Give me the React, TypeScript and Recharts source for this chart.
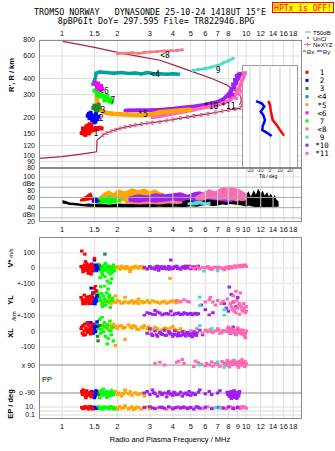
import React from 'react';
import { ComposedChart, Scatter, Line, Area, XAxis, YAxis, ReferenceLine } from 'recharts';

// axes
const FREQ_TICKS = [1, 1.5, 2, 3, 4, 5, 6, 7, 8, 9, 10, 12, 14, 16, 18];
const FREQ_DOMAIN = [0.75, 20.1];
const HEIGHT_TICKS = [80, 90, 100, 120, 150, 200, 300, 400, 600, 800];
const DB_TICKS = [20, 40, 60, 80, 100];
const TILT_TICKS = [-20, -10, 0, 10, 20];

// series names / colours (legend order)
const SERIES = ['1', '2', '3', '<4', '*5', '<6', '7', '<8', '9', '*10', '*11'];
const COLORS = ['#ff0000', '#0000ff', '#228b22', '#00a0a0', '#ffa500', '#ff00ff', '#00ff00', '#f08080', '#40e0d0', '#a020f0', '#ff69b4'];
const CURVE = '#a8204a';

// virtual height traces, [f MHz, h km, ...]
const VH_1 = [1.28,150, 1.3,156, 1.32,148, 1.33,161, 1.35,166, 1.36,152, 1.37,171, 1.38,158, 1.4,163, 1.4,149, 1.42,168, 1.43,155, 1.45,160, 1.34,145, 1.3,163, 1.44,173, 1.47,162, 1.5,159, 1.53,164, 1.56,161, 1.6,165, 1.64,163, 1.41,176];
const VH_2 = [1.38,205, 1.4,212, 1.42,200, 1.44,208, 1.45,195, 1.47,205, 1.48,188, 1.5,198, 1.52,185, 1.53,210, 1.55,193, 1.5,182, 1.43,216, 1.58,201, 1.46,190, 1.41,196];
const VH_3 = [1.48,236, 1.5,246, 1.52,231, 1.54,241, 1.56,226, 1.58,250, 1.53,221, 1.6,236];
const VH_4 = [1.47,360, 1.5,385, 1.52,410, 1.53,440, 1.6,450, 1.75,445, 1.9,440, 2.1,446, 2.3,438, 2.5,442, 2.7,435, 2.9,445, 3.1,438, 3.4,435, 3.7,432, 4.0,436, 4.3,432];
const VH_5 = [1.55,295, 1.55,270, 1.57,250, 1.6,232, 1.65,222, 1.75,215, 1.9,212, 2.1,210, 2.4,208, 2.7,207, 3.0,209, 3.4,218, 3.9,222, 4.5,226, 5.0,228];
const VH_6 = [1.51,372, 1.53,360, 1.55,352, 1.57,366, 1.6,345, 1.62,338, 1.65,332, 1.55,340, 1.58,330, 1.63,350];
const VH_7 = [1.5,322, 1.54,315, 1.58,306, 1.62,300, 1.66,292, 1.7,286, 1.74,280, 1.78,272, 1.82,266, 1.86,260, 1.6,290, 1.7,270, 1.55,298, 1.76,292, 1.84,276];
const VH_8 = [2.0,625, 2.2,630, 2.4,635, 2.6,628, 2.8,640, 3.0,645, 3.3,650, 3.6,655, 3.9,660, 4.2,662, 4.5,670];
const VH_9 = [5.15,462, 5.5,470, 6.0,480, 6.5,492, 7.0,505, 7.5,530, 8.0,550, 8.5,575];
const VH_10 = [2.2,225, 2.6,226, 3.0,226, 3.5,228, 4.0,232, 4.6,238, 5.2,242, 5.8,248, 6.4,255, 7.0,262, 7.5,275, 7.9,295, 8.3,320, 8.6,350, 8.9,385, 9.2,420, 9.3,440];
const VH_10B = [8.3,330, 8.5,360, 8.7,390, 8.9,420, 8.4,300, 8.6,340, 8.8,370, 9.0,400, 8.2,310, 9.1,430, 8.1,290];
const VH_11 = [3.1,198, 3.5,205, 4.0,212, 4.6,220, 5.2,228, 5.8,236, 6.4,242, 7.0,248, 7.6,258, 8.2,272, 8.6,290, 8.9,310, 9.2,340, 9.4,370, 9.6,400, 9.8,430, 9.9,445];
const VH_11B = [9.0,330, 9.3,360, 9.5,390, 9.7,420, 9.8,440, 9.2,300, 9.4,320, 8.8,280];

// trace labels [f, h]
const LABEL_POS = [1.53,150, 1.63,196, 1.67,226, 3.2,432, 2.75,211, 1.69,318, 1.89,271, 3.63,606, 7.05,465, 6.45,243, 8.0,240];

// model curves
const THETA_X = [1.01,780, 1.5,700, 2.0,640, 2.6,595, 3.4,556, 4.2,500, 5.15,451, 6.5,400, 7.9,355, 8.9,315, 9.35,290, 9.4,265, 9.2,250];
const NE_XYZ = [0.75,95, 1.0,98, 1.3,103, 1.54,107, 1.55,132, 1.67,145, 1.75,150, 1.85,155, 1.95,159, 2.07,163, 2.2,167, 2.35,170, 2.5,173, 2.7,176, 2.9,179, 3.1,181, 3.4,184, 3.7,188, 4.0,191, 4.4,196, 4.8,200, 5.2,204, 5.7,208, 6.2,212, 6.8,217, 7.4,222, 8.0,227, 8.7,231, 9.3,235, 9.5,252];

// tilt inset [deg, h]
const TILT_X = [-1.7,266, 0,248, 0.7,226, 1.7,207, 2.7,189, 6.7,173, 10,158, 14,143];
const TILT_Y = [-14,266, -8.3,255, -5.7,241, -9.3,220, -6.7,207, -5,189, -7.3,170, -7.7,158, -3.3,151, 1.7,142];

// amplitude [f, lo dB, hi dB]
const AMP_NOISE = [1.0,48,55, 1.05,47,53, 1.1,45,50, 1.2,44,49, 1.3,43,47, 1.4,42,48, 1.5,42,47, 1.6,41,48, 1.8,40,46, 2.0,41,48, 2.3,40,47, 2.6,41,50, 3.0,41,52, 3.4,42,54, 3.8,41,52, 4.2,42,56, 4.6,41,60, 5.0,43,58, 5.4,42,62, 5.8,44,66, 6.2,45,70, 6.6,43,64, 7.0,44,72, 7.4,46,68, 7.8,45,75, 8.2,47,66, 8.6,46,72, 9.0,45,70, 9.5,44,64, 10,42,66, 10.3,44,72, 10.6,43,62, 11,42,74, 11.3,41,65, 11.6,42,77, 12,40,68, 12.3,42,73, 12.6,41,64, 13,42,70, 13.3,41,62, 13.6,42,67, 14,41,60, 14.3,42,65, 14.6,42,56, 15,42,52];
const AMP_1 = [1.25,52,56, 1.3,52,60, 1.35,53,64, 1.4,54,68, 1.44,55,70, 1.47,55,62];
const AMP_2 = [1.45,50,58, 1.5,49,62, 1.55,49,60, 1.58,50,55];
const AMP_3 = [1.5,50,55, 1.56,51,57, 1.62,50,54];
const AMP_5 = [1.6,55,62, 1.7,54,70, 1.8,56,74, 1.9,55,68, 2.0,54,76, 2.2,52,72, 2.4,54,78, 2.6,53,74, 2.8,52,78, 3.0,55,72, 3.2,54,76, 3.4,56,70, 3.6,55,68];
const AMP_6 = [2.3,55,60, 2.5,54,62, 2.7,56,60];
const AMP_7 = [1.52,48,56, 1.6,47,62, 1.7,48,60, 1.8,47,64, 1.9,48,60, 2.0,50,58, 2.1,50,56];
const AMP_8 = [2.2,48,58, 2.6,46,56, 3.0,47,60, 3.4,46,58, 3.8,48,62, 4.2,47,60, 4.5,48,55];
const AMP_9 = [4.8,45,50, 5.2,44,52, 5.6,46,54, 6.0,44,50, 6.4,45,52];
const AMP_10 = [2.3,52,62, 2.6,50,66, 2.9,52,64, 3.2,50,68, 3.6,52,66, 4.0,54,68, 4.4,52,70, 4.8,55,65, 5.2,53,70, 5.6,50,72, 6.0,56,68, 6.5,55,70, 7.0,54,66, 7.5,52,60, 8.0,50,62, 8.5,52,58];
const AMP_11 = [5.3,55,62, 5.8,54,70, 6.3,58,76, 6.8,56,72, 7.2,55,78, 7.6,56,80, 8.0,54,79, 8.4,55,80, 8.8,52,78, 9.2,54,76, 9.6,52,72, 10,55,68];

// V* m/s  [f, v]
const VEL_1 = [1.27,10, 1.3,-5, 1.32,20, 1.33,-15, 1.35,5, 1.36,30, 1.38,-20, 1.38,12, 1.4,0, 1.41,-30, 1.42,18, 1.43,-8, 1.45,25, 1.46,-12, 1.47,5, 1.3,-25, 1.34,42, 1.28,111, 1.33,91, 1.5,63, 1.39,-35, 1.44,-40, 1.29,0, 1.31,-12, 1.34,8, 1.37,-5, 1.39,20, 1.41,10, 1.44,-2, 1.46,15];
const VEL_2 = [1.44,5, 1.46,-10, 1.48,15, 1.5,0, 1.52,-5, 1.53,20, 1.55,8, 1.5,52, 1.47,-20, 1.54,-15, 1.45,25, 1.49,-8, 1.51,10, 1.56,-2];
const VEL_3 = [1.71,91, 1.55,10, 1.58,-5, 1.6,15];
const VEL_7 = [1.52,10, 1.55,-20, 1.58,25, 1.6,-10, 1.62,5, 1.65,-30, 1.68,15, 1.7,-15, 1.72,30, 1.75,0, 1.78,-25, 1.8,10, 1.82,-40, 1.85,5, 1.88,-10, 1.9,20, 1.71,-57, 1.76,-85, 1.83,-98, 1.61,-63, 1.86,-70, 1.79,-110, 1.66,-45, 1.93,-20, 1.54,0, 1.57,8, 1.63,-18, 1.67,2, 1.73,-8, 1.77,14, 1.81,-12, 1.87,-30, 1.91,0];
const VEL_5 = [1.8,5, 1.85,-5, 1.9,10, 1.95,0, 2.0,8, 2.05,-3, 2.1,12, 2.15,2, 2.2,-5, 2.25,10, 2.3,0, 2.35,-10, 2.4,5, 2.5,12, 2.6,-2, 2.7,8, 2.8,0, 2.34,-24, 3.2,11, 3.6,-3, 3.86,-68, 4.7,15, 2.9,-8, 3.0,5, 1.83,0, 1.98,5, 2.08,-8, 2.18,6, 2.28,-2, 2.45,0, 2.55,5, 2.65,10, 2.75,-4];
const VEL_10 = [2.8,5, 2.9,-5, 3.0,10, 3.1,0, 3.2,-8, 3.3,12, 3.4,3, 3.5,-3, 3.6,8, 3.7,-6, 3.8,10, 3.9,2, 4.0,-4, 4.1,8, 4.2,12, 4.3,0, 4.4,-8, 4.5,6, 4.6,10, 4.7,-2, 4.8,4, 4.9,12, 5.0,-5, 5.1,8, 5.2,2, 5.3,-6, 5.4,6, 3.9,52, 5.5,12, 3.35,-15, 3.05,-2, 3.25,4, 3.45,9, 3.65,0, 3.85,-8, 4.05,5, 4.25,-3, 4.55,0, 4.75,9, 4.95,0, 5.15,-2, 5.35,10];
const VEL_11 = [5.0,5, 5.2,-3, 5.4,8, 5.6,-6, 5.8,4, 6.0,0, 6.2,10, 6.4,-5, 6.6,2, 6.8,6, 7.0,-8, 7.2,3, 7.5,0, 7.8,6, 8.0,-4, 8.2,8, 8.4,2, 8.6,10, 8.8,5, 9.0,12, 9.2,15, 9.4,8, 9.6,18, 9.8,12, 10.0,10, 6.5,-10, 7.6,-12, 6.1,4, 6.3,-2, 7.1,5, 7.4,-4, 7.9,2, 8.1,10, 8.3,0, 8.5,5, 8.7,14, 8.9,8, 9.1,10, 9.3,18, 9.5,12, 9.7,16, 9.9,20];
const VEL_9 = [5.9,-20, 7.0,-18];

// YL km
const YL_1 = [1.27,20, 1.3,-10, 1.32,35, 1.33,5, 1.35,-20, 1.37,15, 1.38,-5, 1.4,25, 1.42,0, 1.43,-15, 1.45,10, 1.47,44, 1.3,-22, 1.52,98, 1.5,80, 1.53,65, 1.29,5, 1.34,-8, 1.36,22, 1.39,8, 1.41,-20, 1.44,30];
const YL_2 = [1.44,81, 1.46,22, 1.48,0, 1.5,-11, 1.52,15, 1.54,-5, 1.47,50, 1.55,30, 1.45,-20, 1.49,12, 1.51,-22];
const YL_3 = [1.51,54, 1.55,33, 1.53,10];
const YL_7 = [1.55,60, 1.58,40, 1.6,20, 1.62,0, 1.65,-20, 1.68,30, 1.7,10, 1.72,-30, 1.75,50, 1.78,-10, 1.8,20, 1.83,-44, 1.86,0, 1.88,15, 1.62,90, 1.7,95, 1.78,75, 1.66,-40, 1.57,10, 1.64,45, 1.73,-5, 1.81,35];
const YL_5 = [1.65,-5, 1.7,-15, 1.75,0, 1.8,-10, 1.85,-20, 1.9,-5, 1.95,-12, 2.0,0, 2.1,-18, 2.2,-8, 2.3,-15, 2.4,-2, 2.5,-10, 2.6,-20, 2.7,-5, 2.8,-12, 2.9,0, 3.0,-15, 3.2,-8, 3.4,-18, 3.6,-5, 3.8,-12, 4.0,-2, 4.2,-15, 4.4,-8, 2.2,20, 1.95,30, 2.6,10, 1.72,-8, 1.82,-2, 1.92,-10, 2.05,-5, 2.15,-15, 2.35,-8, 2.45,-18, 2.55,-4, 2.75,-15, 2.95,-8, 3.1,-2, 3.3,-12, 3.5,-10, 3.7,-18, 3.9,-6, 4.1,-10];
const YL_10 = [2.9,-80, 3.1,-90, 3.3,-75, 3.5,-95, 3.7,-85, 3.9,-70, 4.1,-88, 4.3,-82, 4.5,-90, 4.7,-85, 4.9,-88, 5.1,-92, 5.3,-84, 5.5,-86, 3.2,-65, 4.0,-100, 2.8,-98, 5.7,-30, 6.0,-60, 6.6,-80, 7.6,-20, 7.8,-50, 8.0,-70, 8.3,40, 8.5,-10, 8.8,-40, 9.0,20, 8.1,88, 6.3,-95, 3.0,-85, 3.2,-92, 3.4,-82, 3.6,-88, 3.8,-90, 4.2,-85, 4.4,-92, 4.6,-80, 4.8,-90, 5.0,-84, 5.2,-88, 5.4,-90];
const YL_11 = [4.2,0, 4.4,-8, 4.6,5, 4.8,-5, 4.9,-10, 6.0,-10, 6.3,5, 6.4,20, 6.6,-10, 6.8,-30, 7.0,0, 7.3,-20, 7.5,-5, 7.9,10, 8.2,-20, 8.5,30, 8.7,-50, 8.9,0, 9.1,-30, 9.3,50, 9.5,-60, 9.7,-20, 9.9,-80, 10.0,-40, 9.2,-90, 8.6,-70, 8.8,60, 8.3,-40, 8.4,-60, 8.6,-10, 8.8,-80, 9.0,-50, 9.2,-20, 9.4,-40, 9.6,-70, 9.8,-50, 10.0,-70];
const YL_9 = [5.6,22, 5.6,-33, 7.6,-60, 7.6,-98];

// XL km
const XL_1 = [1.27,20, 1.29,-10, 1.3,40, 1.32,5, 1.34,-20, 1.35,25, 1.37,60, 1.38,-5, 1.4,15, 1.42,35, 1.43,-15, 1.45,10, 1.47,50, 1.31,-22, 1.39,45, 1.28,30, 1.33,50, 1.36,10, 1.41,0, 1.44,25];
const XL_2 = [1.43,60, 1.45,30, 1.47,10, 1.49,45, 1.5,20, 1.52,0, 1.54,35, 1.55,65, 1.48,-10, 1.46,50, 1.51,30];
const XL_3 = [1.52,5, 1.56,-30, 1.6,40, 1.57,-60];
const XL_7 = [1.55,50, 1.58,20, 1.6,80, 1.62,-10, 1.65,40, 1.68,0, 1.7,60, 1.72,-30, 1.75,25, 1.78,-44, 1.8,10, 1.82,70, 1.85,-20, 1.88,30, 1.9,-60, 1.65,98, 1.76,-80, 1.57,35, 1.63,15, 1.7,30, 1.77,45, 1.84,5];
const XL_5 = [1.65,45, 1.7,55, 1.75,30, 1.8,40, 1.85,25, 1.9,50, 1.95,35, 2.0,20, 2.1,40, 2.2,28, 2.3,45, 2.4,24, 2.5,35, 2.6,15, 2.7,30, 2.8,40, 2.9,20, 3.0,10, 3.2,30, 3.4,5, 3.6,25, 3.8,12, 4.0,35, 4.2,8, 4.4,20, 4.6,4, 2.2,-50, 1.95,-90, 1.72,35, 1.82,45, 1.92,30, 2.05,38, 2.15,22, 2.35,32, 2.45,40, 2.55,18, 2.75,25, 2.95,32, 3.1,18, 3.3,20, 3.5,12, 3.7,20, 3.9,25, 4.1,15];
const XL_10 = [2.9,-10, 3.0,20, 3.1,-25, 3.2,5, 3.3,-30, 3.4,-5, 3.5,-18, 3.6,10, 3.7,-22, 3.8,0, 3.9,-15, 4.0,-30, 4.1,5, 4.2,-20, 4.3,-8, 4.4,-25, 4.5,0, 4.6,-15, 4.7,-28, 4.8,-5, 4.9,-20, 5.0,-10, 5.1,-33, 5.2,0, 5.3,-18, 5.4,-8, 5.6,10, 5.8,-20, 8.0,20, 8.2,-10, 8.5,30, 8.8,-15, 9.0,10, 3.05,-15, 3.25,-20, 3.45,-12, 3.65,-25, 3.85,-8, 4.05,-18, 4.25,-28, 4.55,-20, 4.75,-10, 4.95,-25, 5.15,-15, 5.35,-25];
const XL_11 = [5.0,5, 5.4,20, 5.8,-10, 6.0,10, 6.2,0, 6.4,15, 6.6,-5, 6.8,5, 7.0,20, 7.2,-10, 7.5,8, 7.8,0, 8.0,30, 8.2,-5, 8.4,15, 8.6,5, 8.8,-20, 9.0,25, 9.2,0, 9.4,-15, 9.6,10, 9.8,-25, 10.0,5, 9.9,-40, 6.1,5, 6.5,0, 7.1,10, 7.4,-3, 7.9,12, 8.1,5, 8.3,18, 8.5,-8, 8.7,10, 8.9,0, 9.1,-8, 9.3,12, 9.5,-5, 9.7,-15, 9.9,-10];
const XL_9 = [5.6,40, 6.5,20];

// PP polarisation deg
const PP_1 = [1.28,-80, 1.3,-100, 1.32,-90, 1.34,-110, 1.36,-75, 1.38,-95, 1.4,-105, 1.42,-85, 1.44,-115, 1.46,-90, 1.3,-70, 1.35,-120, 1.29,-95, 1.33,-85, 1.37,-100, 1.41,-92];
const PP_2 = [1.45,-80, 1.47,-100, 1.49,-90, 1.51,-110, 1.53,-75, 1.5,-120, 1.48,-85, 1.52,-95];
const PP_3 = [1.55,-85, 1.57,-100];
const PP_7 = [1.56,-80, 1.6,-95, 1.63,-75, 1.66,-105, 1.7,-85, 1.73,-100, 1.76,-80, 1.8,-110, 1.83,-90, 1.86,-75, 1.9,-100, 1.6,-120, 1.75,-118, 1.68,-65, 1.58,-100, 1.65,-88, 1.72,-92, 1.78,-98, 1.85,-105, 1.88,-88];
const PP_5 = [1.85,-85, 1.9,-95, 1.95,-80, 2.0,-100, 2.05,-90, 2.1,-110, 2.2,-85, 2.3,-95, 2.4,-105, 2.5,-88, 2.6,-100, 2.7,-92, 2.2,-70, 2.8,-110, 3.5,-95, 3.9,-100, 2.15,-95, 2.35,-82, 2.55,-95];
const PP_10 = [2.8,-90, 2.9,-80, 3.0,-100, 3.1,-70, 3.2,-95, 3.3,-110, 3.4,-85, 3.5,-100, 3.6,-90, 3.7,-115, 3.8,-80, 3.9,-95, 4.0,-105, 4.1,-90, 4.2,-100, 4.4,-85, 4.5,-110, 4.6,-95, 4.8,-100, 4.9,-80, 5.0,-105, 5.1,-90, 5.3,-100, 5.5,-85, 5.6,-70, 6.0,-95, 6.3,-80, 6.5,-100, 7.0,-90, 7.2,-75, 7.9,-85, 8.0,-100, 8.1,-110, 8.2,-90, 8.3,-80, 8.4,-120, 8.5,-95, 8.6,-105, 8.7,-85, 8.8,-115, 8.9,-100, 9.0,-90, 9.1,-110, 9.2,-80, 8.3,-125, 8.6,-75, 8.9,-125, 7.95,-95, 8.05,-88, 8.15,-102, 8.25,-112, 8.35,-95, 8.45,-85, 8.55,-110, 8.65,-92, 8.75,-100, 8.85,-88, 8.95,-108, 9.05,-98, 9.15,-92, 8.4,-100, 8.7,-118, 3.15,-88, 3.45,-95, 3.75,-92, 4.05,-85, 4.3,-98, 4.7,-90, 5.2,-95];
const PP_11 = [3.2,100, 3.4,108, 3.6,90, 4.2,108, 4.3,115, 4.5,125, 4.6,100, 5.2,80, 5.3,115, 5.5,105, 5.7,95, 6.0,85, 6.1,100, 6.3,90, 6.5,110, 6.6,82, 6.8,100, 7.0,95, 7.2,80, 7.4,112, 7.6,100, 7.8,88, 8.0,105, 8.1,78, 8.3,110, 8.5,92, 8.6,120, 8.8,100, 9.0,85, 9.2,115, 9.4,95, 9.6,105, 9.8,80, 10.0,100, 7.9,120, 9.1,75, 9.5,125, 8.2,95, 7.7,95, 7.85,108, 8.05,90, 8.25,102, 8.45,115, 8.65,95, 8.85,108, 9.05,98, 9.25,88, 9.45,110, 9.65,92, 9.85,112, 9.95,90];
const PP_9 = [5.6,90, 7.0,110, 7.6,75];

// EP deg
const EP_1 = [1.28,8, 1.3,4, 1.33,12, 1.36,5, 1.38,9, 1.4,3, 1.42,14, 1.45,6, 1.47,3, 1.31,6, 1.35,10];
const EP_2 = [1.45,10, 1.48,5, 1.5,8, 1.53,4];
const EP_7 = [1.52,10, 1.55,5, 1.58,12, 1.6,4, 1.63,8, 1.66,3, 1.7,11, 1.73,5, 1.76,9, 1.8,3.5, 1.83,12, 1.86,5, 1.9,8, 1.92,3, 1.65,6, 1.78,6];
const EP_5 = [1.85,10, 1.9,4, 1.95,8, 2.0,3, 2.05,12, 2.1,5, 2.2,9, 2.3,3.5, 2.4,11, 2.5,4.5, 2.6,8, 2.7,3, 2.8,6, 2.9,10, 3.0,4, 2.2,22, 2.45,2.5, 2.15,6, 2.35,7, 2.55,10];
const EP_10 = [2.8,8, 3.0,12, 3.2,4, 3.4,9, 3.6,5, 3.8,11, 4.0,3.5, 4.2,8, 4.4,5, 4.6,10, 4.8,4, 5.0,8, 5.2,3, 5.4,12, 5.6,5, 6.0,9, 6.5,4, 7.0,8, 7.5,5, 8.0,10, 8.5,4, 9.0,8, 3.1,6, 3.5,7, 4.1,6, 4.5,8, 4.9,6, 5.5,8];
const EP_11 = [3.3,6, 3.5,10, 3.7,3, 3.9,8, 4.3,12, 4.7,6, 5.3,9, 5.8,4, 6.2,11, 6.6,5, 7.2,9, 7.8,4, 8.2,12, 8.6,6, 9.0,10, 9.3,4, 9.6,8, 10.0,5, 9.8,11, 8.4,8, 8.8,5, 9.2,7, 9.5,12, 6.0,6, 7.5,7];
const EP_9 = [6.8,8, 7.2,5];

const SANS = 'Liberation Sans, Arial, sans-serif';
const MONO = 'DejaVu Sans Mono, Liberation Mono, monospace';
const TICK = { fontSize: 7.5, fill: '#111', fontFamily: SANS };
const SMALL_TICK = { fontSize: 7, fill: '#111', fontFamily: SANS };

const pairs = (flat: number[], kx: string, ky: string) => {
  const out: any[] = [];
  for (let i = 0; i + 1 < flat.length; i += 2) out.push({ [kx]: flat[i], [ky]: flat[i + 1] });
  return out;
};
const ranges = (flat: number[]) => {
  const out: any[] = [];
  for (let i = 0; i + 2 < flat.length; i += 3) out.push({ f: flat[i], r: [flat[i + 1], flat[i + 2]] });
  return out;
};

const square = (color: string, w: number, h: number) => (p: any) =>
  p.cx == null ? <g /> : <rect x={p.cx - w / 2} y={p.cy - h / 2} width={w} height={h} fill={color} />;

const freqLabel = (v: number) => String(v);

type StripProps = {
  top: number; h: number; domain: number[]; log?: boolean; ticks: number[];
  labels: Record<string, string>; grid: { v: number; c: string }[];
  sets: [number, number[]][]; showX?: boolean;
};

function Strip({ top, h, domain, log, ticks, labels, grid, sets, showX }: StripProps) {
  const mt = 8;
  const mb = showX ? 0 : 8;
  const xh = showX ? 14 : 0;
  return (
    <div style={{ position: 'absolute', left: 0, top: top - mt }}>
      <ComposedChart width={335} height={h + mt + mb + xh} margin={{ top: mt, right: 33, bottom: mb, left: 0 }}>
        <XAxis dataKey="f" type="number" scale="log" domain={FREQ_DOMAIN} ticks={FREQ_TICKS} allowDataOverflow
          hide={!showX} height={xh} interval={0} tick={TICK} axisLine={false} tickLine={false} tickSize={2} tickMargin={2.5}
          tickFormatter={freqLabel} />
        <YAxis dataKey="v" type="number" scale={log ? 'log' : 'linear'} domain={domain} ticks={ticks} allowDataOverflow
          width={39} interval={0} tick={SMALL_TICK} axisLine={false} tickLine={false} tickSize={0} tickMargin={4}
          tickFormatter={(v: number) => labels[String(v)] ?? ''} />
        {FREQ_TICKS.map((f) => <ReferenceLine key={'f' + f} x={f} stroke="#dedede" />)}
        {grid.map((g) => <ReferenceLine key={'g' + g.v} y={g.v} stroke={g.c} />)}
        {sets.map(([ci, arr], i) => (
          <Scatter key={i} data={pairs(arr, 'f', 'v')} shape={square(COLORS[ci], 3.5, 3)} isAnimationActive={false} />
        ))}
      </ComposedChart>
    </div>
  );
}

const TOP_LINES: [number, number[], number][] = [
  [3, VH_4, 3.5], [7, VH_8, 2.5], [8, VH_9, 2.5], [9, VH_10, 4], [10, VH_11, 3.5], [4, VH_5, 4.5],
];
const TOP_BLOBS: [number, number[], number][] = [
  [9, VH_10B, 4], [10, VH_11B, 3.5], [6, VH_7, 4], [5, VH_6, 4], [2, VH_3, 4], [1, VH_2, 4], [0, VH_1, 4],
];
const AMP_SETS: [string, number[]][] = [
  ['#000000', AMP_NOISE], [COLORS[7], AMP_8], [COLORS[4], AMP_5], [COLORS[5], AMP_6], [COLORS[9], AMP_10],
  [COLORS[8], AMP_9], [COLORS[10], AMP_11], [COLORS[6], AMP_7], [COLORS[2], AMP_3], [COLORS[1], AMP_2], [COLORS[0], AMP_1],
];

export default function App() {
  const labelData = pairs(LABEL_POS, 'f', 'h').map((d, i) => ({ ...d, t: SERIES[i] }));
  return (
    <div style={{ position: 'relative', width: 335, height: 451, background: '#fff', overflow: 'hidden' }}>
      <style>{'body{margin:0}'}</style>

      {/* top panel: axes and grid */}
      <div style={{ position: 'absolute', left: 0, top: 0 }}>
        <ComposedChart width={335} height={176} margin={{ top: 20, right: 33, bottom: 8, left: 0 }}>
          <XAxis dataKey="f" type="number" scale="log" domain={FREQ_DOMAIN} ticks={FREQ_TICKS} orientation="top" height={20}
            allowDataOverflow interval={0} tick={TICK} axisLine={false} tickLine={false} tickSize={2} tickMargin={2.5}
            tickFormatter={(v: number) => (v === 9 ? '' : String(v))} />
          <YAxis dataKey="h" type="number" scale="log" domain={[80, 800]} ticks={HEIGHT_TICKS} width={39} allowDataOverflow
            interval={0} tick={SMALL_TICK} axisLine={false} tickLine={false} tickSize={0} tickMargin={4} />
          {FREQ_TICKS.map((f) => <ReferenceLine key={'f' + f} x={f} stroke="#dedede" />)}
          {HEIGHT_TICKS.map((h) => <ReferenceLine key={'h' + h} y={h} stroke="#dedede" />)}
        </ComposedChart>
      </div>

      {/* tilt inset */}
      <div style={{ position: 'absolute', left: 242, top: 65, width: 56, height: 103, background: '#fff', border: '1px solid #9a9a9a', boxSizing: 'border-box' }} />
      <div style={{ position: 'absolute', left: 0, top: 0 }}>
        <ComposedChart width={335} height={190} margin={{ top: 65, right: 37, bottom: 14, left: 242 }}>
          <XAxis dataKey="t" type="number" domain={[-28, 28]} ticks={TILT_TICKS} height={8} interval={0}
            tick={{ fontSize: 5, fill: '#222', fontFamily: SANS }} axisLine={false} tickLine={false} tickSize={0} tickMargin={0.5} />
          <YAxis dataKey="h" type="number" scale="log" domain={[80, 508]} hide allowDataOverflow />
          {TILT_TICKS.map((t) => <ReferenceLine key={'t' + t} x={t} stroke="#cfcfcf" />)}
          <Line data={pairs(TILT_Y, 't', 'h')} dataKey="h" stroke={COLORS[1]} strokeWidth={2.5} dot={false} isAnimationActive={false} />
          <Line data={pairs(TILT_X, 't', 'h')} dataKey="h" stroke={COLORS[0]} strokeWidth={2.5} dot={false} isAnimationActive={false} />
        </ComposedChart>
      </div>

      {/* top panel: traces */}
      <div style={{ position: 'absolute', left: 0, top: 0 }}>
        <ComposedChart width={335} height={170} margin={{ top: 40, right: 33, bottom: 2, left: 39 }}>
          <XAxis dataKey="f" type="number" scale="log" domain={FREQ_DOMAIN} hide allowDataOverflow />
          <YAxis dataKey="h" type="number" scale="log" domain={[80, 800]} hide allowDataOverflow />
          <Line data={pairs(THETA_X, 'f', 'h')} dataKey="h" stroke={CURVE} strokeWidth={1.2} dot={false} isAnimationActive={false} />
          <Line data={pairs(NE_XYZ, 'f', 'h')} dataKey="h" stroke={CURVE} strokeWidth={1.2} isAnimationActive={false}
            dot={(p: any) => (p.payload.f > 1.6
              ? <path key={'d' + p.index} d={`M${p.cx - 1.5},${p.cy - 1.5}h3M${p.cx},${p.cy - 1.5}v3M${p.cx - 1.5},${p.cy + 1.5}h3`} stroke="#e0709a" strokeWidth={1} fill="none" />
              : <g key={'d' + p.index} />)} />
          {TOP_LINES.map(([ci, arr, w]) => (
            <Scatter key={'l' + ci} data={pairs(arr, 'f', 'h')} line={{ stroke: COLORS[ci], strokeWidth: w }} lineType="joint"
              shape={square(COLORS[ci], 3, 3)} isAnimationActive={false} />
          ))}
          {TOP_BLOBS.map(([ci, arr, s]) => (
            <Scatter key={'b' + ci} data={pairs(arr, 'f', 'h')} shape={square(COLORS[ci], s, s)} isAnimationActive={false} />
          ))}
          <Scatter data={labelData} isAnimationActive={false}
            shape={(p: any) => (
              <text x={p.cx} y={p.cy} fontSize={8} fontFamily={MONO} fill="#000" textAnchor="middle" dominantBaseline="central">{p.payload.t}</text>
            )} />
        </ComposedChart>
      </div>

      {/* amplitude panel */}
      <div style={{ position: 'absolute', left: 0, top: 164 }}>
        <ComposedChart width={335} height={72} margin={{ top: 4, right: 33, bottom: 0, left: 0 }}>
          <XAxis dataKey="f" type="number" scale="log" domain={FREQ_DOMAIN} ticks={FREQ_TICKS} height={14} allowDataOverflow
            interval={0} tick={TICK} axisLine={false} tickLine={false} tickSize={2} tickMargin={2.5} tickFormatter={freqLabel} />
          <YAxis type="number" domain={[12, 117.5]} ticks={DB_TICKS} width={39} allowDataOverflow interval={0} tick={SMALL_TICK}
            axisLine={false} tickLine={false} tickSize={0} tickMargin={4}
            tickFormatter={(v: number) => (v === 80 ? 'dBe 80' : v === 20 ? 'dBn 20' : String(v))} />
          {FREQ_TICKS.map((f) => <ReferenceLine key={'f' + f} x={f} stroke="#dedede" />)}
          <ReferenceLine y={100} stroke="#dedede" />
          <ReferenceLine y={80} stroke="#a8a8a8" />
          <ReferenceLine y={60} stroke="#a8a8a8" />
          <ReferenceLine y={40} stroke="#a8a8a8" />
          <ReferenceLine y={20} stroke="#b4b8e8" />
          {AMP_SETS.map(([c, arr], i) => (
            <Area key={i} data={ranges(arr)} dataKey="r" type="linear" stroke="none" fill={c} fillOpacity={1} isAnimationActive={false} />
          ))}
        </ComposedChart>
      </div>

      {/* lower panels */}
      <Strip top={237} h={47.5} domain={[-108, 203]} ticks={[100, 0, -100]} labels={{ '100': '100', '0': '0', '-100': '+-100' }}
        grid={[{ v: 100, c: '#e6e6e6' }, { v: 0, c: '#e6e6e6' }, { v: -100, c: '#e6e6e6' }]}
        sets={[[4, VEL_5], [9, VEL_10], [10, VEL_11], [8, VEL_9], [6, VEL_7], [2, VEL_3], [1, VEL_2], [0, VEL_1]]} />
      <Strip top={284.5} h={31.5} domain={[-104.6, 101.3]} ticks={[0, -100]} labels={{ '0': '0', '-100': '+-100' }}
        grid={[{ v: 0, c: '#e6e6e6' }, { v: -100, c: '#e6e6e6' }]}
        sets={[[4, YL_5], [9, YL_10], [10, YL_11], [8, YL_9], [6, YL_7], [2, YL_3], [1, YL_2], [0, YL_1]]} />
      <Strip top={316} h={40} domain={[-159, 103]} ticks={[0, -100]} labels={{ '0': '0', '-100': '-100' }}
        grid={[{ v: 0, c: '#e6e6e6' }, { v: -100, c: '#e6e6e6' }]}
        sets={[[4, XL_5], [9, XL_10], [10, XL_11], [8, XL_9], [6, XL_7], [2, XL_3], [1, XL_2], [0, XL_1]]} />
      <Strip top={356} h={44} domain={[-135, 148]} ticks={[90, -90]} labels={{ '90': 'x 90', '-90': 'o -90' }}
        grid={[{ v: 90, c: '#8c8c8c' }, { v: -90, c: '#8c8c8c' }]}
        sets={[[10, PP_11], [8, PP_9], [4, PP_5], [9, PP_10], [6, PP_7], [2, PP_3], [1, PP_2], [0, PP_1]]} />
      <Strip top={400} h={19} log domain={[0.01, 562]} ticks={[10, 1, 0.1]} labels={{ '10': '10.', '0.1': '0.1' }}
        grid={[{ v: 10, c: '#dadada' }, { v: 1, c: '#dadada' }, { v: 0.1, c: '#dadada' }]}
        sets={[[4, EP_5], [10, EP_11], [9, EP_10], [8, EP_9], [6, EP_7], [1, EP_2], [0, EP_1]]} showX />

      {/* frames, titles, legends */}
      <svg width={335} height={451} style={{ position: 'absolute', left: 0, top: 0, pointerEvents: 'none' }}>
        <rect x={39.5} y={40.5} width={262} height={127} fill="none" stroke="#8a8a8a" />
        <rect x={39.5} y={168.5} width={262} height={53} fill="none" stroke="#8a8a8a" />
        <rect x={39.5} y={237.5} width={262} height={181} fill="none" stroke="#8a8a8a" />

        <text x={150} y={15} fontSize={8.4} fontFamily={MONO} textAnchor="middle" xmlSpace="preserve">TROMSO NORWAY   DYNASONDE 25-10-24 1418UT 15°E</text>
        <text x={156} y={23.5} fontSize={8.4} fontFamily={MONO} textAnchor="middle">8pBP6It DoY= 297.595 File= TR822946.BPG</text>

        <rect x={272.5} y={2.5} width={61} height={10} fill="#ffff00" stroke="#ff0000" />
        <text x={303} y={10.5} fontSize={8} fontFamily={MONO} textAnchor="middle" fill="#ff0000">HPTx is OFF!</text>

        <line x1={305} y1={32} x2={311} y2={32} stroke="#999" />
        <text x={313} y={34.5} fontSize={6} fontFamily={SANS}>T50dB</text>
        <circle cx={308} cy={38} r={0.8} fill="#000" />
        <text x={313} y={40.5} fontSize={6} fontFamily={SANS}>UnCl</text>
        <line x1={304} y1={44.5} x2={311} y2={44.5} stroke="#e0709a" />
        <path d="M307.5,42.5v4" stroke="#e0709a" />
        <text x={313} y={47} fontSize={6} fontFamily={SANS}>NeXYZ</text>
        <line x1={303} y1={51} x2={306} y2={51} stroke={CURVE} />
        <text x={306.5} y={53.5} fontSize={6} fontFamily={SANS}>Θx</text>
        <line x1={317} y1={51} x2={322} y2={51} stroke="#0000ff" />
        <text x={322.5} y={53.5} fontSize={6} fontFamily={SANS}>Θy</text>

        {SERIES.map((s, i) => (
          <g key={s}>
            <rect x={305.5} y={72.3 + 8.1 * i - 1.5} width={3} height={3} fill={COLORS[i]} />
            <text x={322} y={72.3 + 8.1 * i + 2.8} fontSize={7.5} fontFamily={MONO} textAnchor="middle">{s}</text>
          </g>
        ))}

        <text x={268} y={178} fontSize={4.8} fontFamily={SANS} textAnchor="middle">Tilt / deg</text>

        <text transform="translate(14,75) rotate(-90)" fontSize={7.5} fontWeight="bold" fontFamily={SANS} textAnchor="middle">R', R / km</text>
        <text transform="translate(13,258) rotate(-90)" fontSize={7.5} fontWeight="bold" fontFamily={SANS} textAnchor="middle">V* <tspan fontSize={5.5} fontWeight="normal">m/s</tspan></text>
        <text transform="translate(13,300) rotate(-90)" fontSize={7.5} fontWeight="bold" fontFamily={SANS} textAnchor="middle">YL</text>
        <text transform="translate(16,316) rotate(-90)" fontSize={6} fontFamily={SANS} textAnchor="middle">/km</text>
        <text transform="translate(13,333) rotate(-90)" fontSize={7.5} fontWeight="bold" fontFamily={SANS} textAnchor="middle">XL</text>
        <text x={42} y={382} fontSize={7.5} fontFamily={SANS}>PP</text>
        <text transform="translate(13,404) rotate(-90)" fontSize={7.5} fontWeight="bold" fontFamily={SANS} textAnchor="middle">EP / deg</text>
        <text x={170} y={442} fontSize={7.5} fontFamily={SANS} textAnchor="middle">Radio and Plasma Frequency / MHz</text>
      </svg>
    </div>
  );
}
